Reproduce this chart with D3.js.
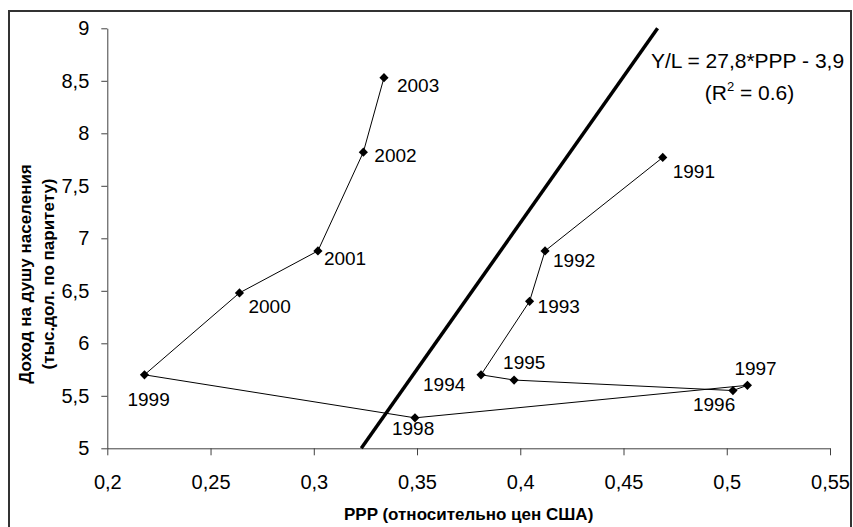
<!DOCTYPE html>
<html>
<head>
<meta charset="utf-8">
<script src="https://cdn.jsdelivr.net/npm/d3@7"></script>
<style>
  html, body { margin: 0; padding: 0; background: #fff; }
  svg { display: block; font-family: "Liberation Sans", Arial, sans-serif; }
</style>
</head>
<body>
<svg id="chart" width="853" height="527"></svg>
<script>
// ---- data ----
const years  = [1991, 1992, 1993, 1994, 1995, 1996, 1997, 1998, 1999, 2000, 2001, 2002, 2003];
const ppp    = [0.469, 0.412, 0.4045, 0.381, 0.397, 0.503, 0.510, 0.349, 0.218, 0.264, 0.302, 0.324, 0.334];
const income = [7.77, 6.88, 6.40, 5.70, 5.65, 5.55, 5.60, 5.29, 5.70, 6.48, 6.88, 7.82, 8.53];
const trendX = [0.323, 0.4665];
const trendY = [5, 9];
const xTicks = [0.2, 0.25, 0.3, 0.35, 0.4, 0.45, 0.5, 0.55];
const xTickLabels = ["0,2", "0,25", "0,3", "0,35", "0,4", "0,45", "0,5", "0,55"];
const yTicks = [5, 5.5, 6, 6.5, 7, 7.5, 8, 8.5, 9];
const yTickLabels = ["5", "5,5", "6", "6,5", "7", "7,5", "8", "8,5", "9"];
const xTitle = "PPP (относительно цен США)";
const yTitle = ["Доход на душу населения", "(тыс.дол. по паритету)"];
const equation = "Y/L = 27,8*PPP - 3,9";

// label placement (offset of label start/baseline from the point)
const labelPlacement = {
  1991: [10, 21], 1992: [8, 16], 1993: [8, 12], 1994: [-58, 16], 1995: [-11, -11],
  1996: [-40, 20], 1997: [-13, -10], 1998: [-23, 17], 1999: [-17, 31], 2000: [9, 20],
  2001: [6, 14], 2002: [11, 10], 2003: [13, 14]
};

const svg = d3.select("#chart");
const x = d3.scaleLinear().domain([0.2, 0.55]).range([107.3, 830]);
const y = d3.scaleLinear().domain([5, 9]).range([448.3, 28.3]);

// outer frame
svg.append("rect")
  .attr("x", 9).attr("y", 11).attr("width", 842).attr("height", 530)
  .attr("fill", "none").attr("stroke", "#333").attr("stroke-width", 2);

// axes
const axisColor = "#404040";
const gx = svg.append("g").attr("transform", `translate(0,${y(5)})`)
  .call(d3.axisBottom(x).tickValues(xTicks).tickSize(7).tickSizeOuter(0).tickPadding(19.5)
    .tickFormat((d, i) => xTickLabels[i]));
const gy = svg.append("g").attr("transform", `translate(${x(0.2)},0)`)
  .call(d3.axisLeft(y).tickValues(yTicks).tickSize(6).tickSizeOuter(0).tickPadding(12)
    .tickFormat((d, i) => yTickLabels[i]));
[gx, gy].forEach(g => {
  g.select(".domain").attr("stroke", axisColor).attr("stroke-width", 1);
  g.selectAll(".tick line").attr("stroke", axisColor).attr("stroke-width", 1);
  g.selectAll(".tick text").attr("fill", "#000").style("font-size", "20px")
    .style("font-family", "'Liberation Sans', Arial, sans-serif");
});

// trend line
svg.append("line")
  .attr("x1", x(trendX[0])).attr("y1", y(trendY[0]))
  .attr("x2", x(trendX[1])).attr("y2", y(trendY[1]))
  .attr("stroke", "#000").attr("stroke-width", 3.5);

// path of points
const pts = years.map((yr, i) => ({ year: yr, x: ppp[i], y: income[i] }));
svg.append("path")
  .datum(pts)
  .attr("fill", "none").attr("stroke", "#000").attr("stroke-width", 1)
  .attr("d", d3.line().x(d => x(d.x)).y(d => y(d.y)));

// markers
svg.append("g").selectAll("path").data(pts).join("path")
  .attr("d", d3.symbol().type(d3.symbolSquare).size(42))
  .attr("transform", d => `translate(${x(d.x)},${y(d.y)}) rotate(45)`)
  .attr("fill", "#000");

// year labels
svg.append("g").selectAll("text").data(pts).join("text")
  .attr("x", d => x(d.x) + labelPlacement[d.year][0])
  .attr("y", d => y(d.y) + labelPlacement[d.year][1])
  .style("font-size", "19px").attr("fill", "#000")
  .text(d => d.year);

// equation
svg.append("text").attr("x", 747.5).attr("y", 68).attr("text-anchor", "middle")
  .style("font-size", "21px").text(equation);
const r2 = svg.append("text").attr("x", 749.5).attr("y", 100).attr("text-anchor", "middle")
  .style("font-size", "21px");
r2.append("tspan").text("(R");
r2.append("tspan").attr("dy", -9).style("font-size", "13px").text("2");
r2.append("tspan").attr("dy", 9).text(" = 0.6)");

// axis titles
svg.append("text").attr("x", (x(0.2) + x(0.55)) / 2).attr("y", 520)
  .attr("text-anchor", "middle").style("font-size", "17px").style("font-weight", "bold")
  .text(xTitle);
const yt = svg.append("text").attr("transform", "translate(31,274) rotate(-90)")
  .attr("text-anchor", "middle").style("font-size", "17px").style("font-weight", "bold");
yt.append("tspan").attr("x", 0).attr("dy", 0).text(yTitle[0]);
yt.append("tspan").attr("x", 0).attr("dy", 23).text(yTitle[1]);
</script>
</body>
</html>
